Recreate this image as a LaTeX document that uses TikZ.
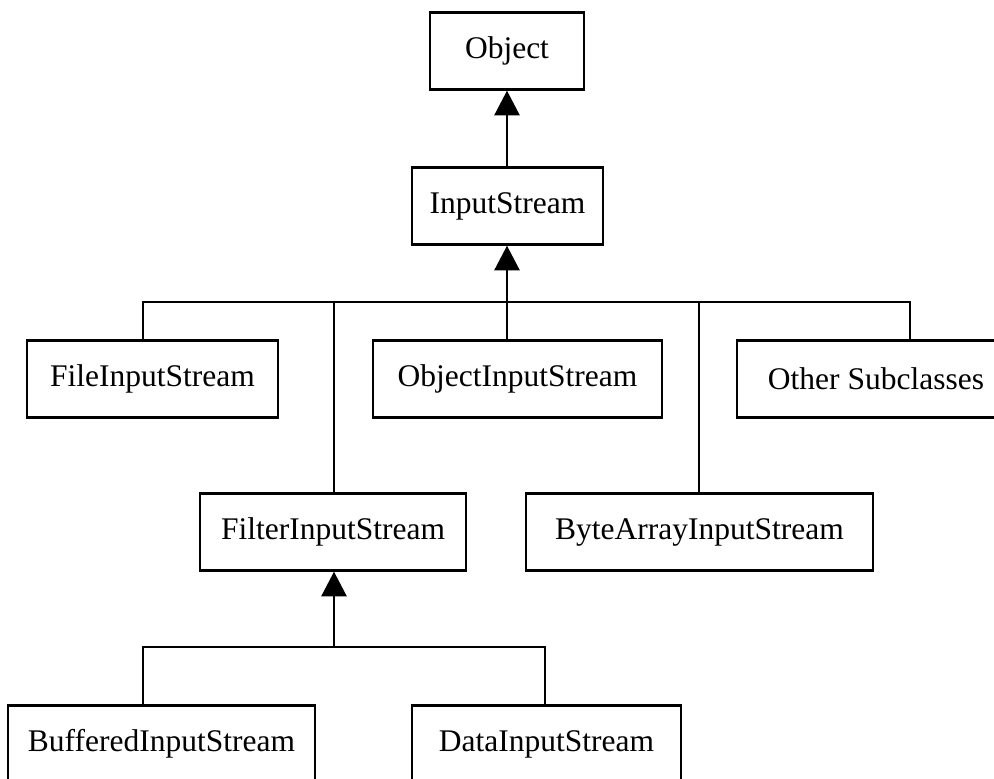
\documentclass[tikz,border=0pt]{standalone}
\usepackage{fontspec}
\setmainfont{Liberation Serif}
\usetikzlibrary{arrows.meta}

\begin{document}
\begin{tikzpicture}[x=0.025cm, y=-0.025cm,
    classbox/.style={draw, line width=1.8pt, inner sep=0pt, minimum height=1.92cm,
      font=\fontsize{22.4}{26}\selectfont},
    link/.style={line width=1.8pt},
    isa/.style={line width=1.8pt, -{Triangle[width=0.63cm, length=0.62cm]}}]
% Page frame
\useasboundingbox (0, 0) rectangle (994, 778);
\clip (0, 0) rectangle (994, 778);

% Top of the hierarchy
\node[classbox, minimum width=3.85cm] (object) at (507, 51) {Object};
\node[classbox, minimum width=4.78cm] (input) at (507.5, 206) {InputStream};

% Direct subclasses
\node[classbox, minimum width=6.28cm] (file) at (152.5, 379) {FileInputStream};
\node[classbox, minimum width=7.23cm] (objin) at (517.5, 379) {ObjectInputStream};
\node[classbox, minimum width=6.95cm] (other) at (876, 379) {Other Subclasses};
\node[classbox, minimum width=6.65cm] (filter) at (333, 532) {FilterInputStream};
\node[classbox, minimum width=8.68cm] (bytearr) at (699.5, 532) {ByteArrayInputStream};

% Filter subclasses
\node[classbox, minimum width=7.68cm] (buffered) at (161.5, 744) {BufferedInputStream};
\node[classbox, minimum width=6.73cm] (data) at (546.5, 744) {DataInputStream};

% Upper bus
\coordinate (busL) at (143, 302);
\coordinate (busF) at (334, 302);
\coordinate (busM) at (507, 302);
\coordinate (busB) at (699, 302);
\coordinate (busR) at (910, 302);
\draw[link] (busL |- file.north) -- (busL) -- (busR) -- (busR |- other.north);
\draw[link] (busF) -- (busF |- filter.north);
\draw[link] (busB) -- (busB |- bytearr.north);
\draw[link] (busM |- objin.north) -- (busM);
\draw[isa] (busM) -- (busM |- input.south);
\draw[isa] (input.north -| object.south) -- (object.south);

% Lower bus
\coordinate (lowL) at (143, 647);
\coordinate (lowM) at (334, 647);
\coordinate (lowR) at (545, 647);
\draw[link] (lowL |- buffered.north) -- (lowL) -- (lowR) -- (lowR |- data.north);
\draw[isa] (lowM) -- (lowM |- filter.south);
\end{tikzpicture}
\end{document}
